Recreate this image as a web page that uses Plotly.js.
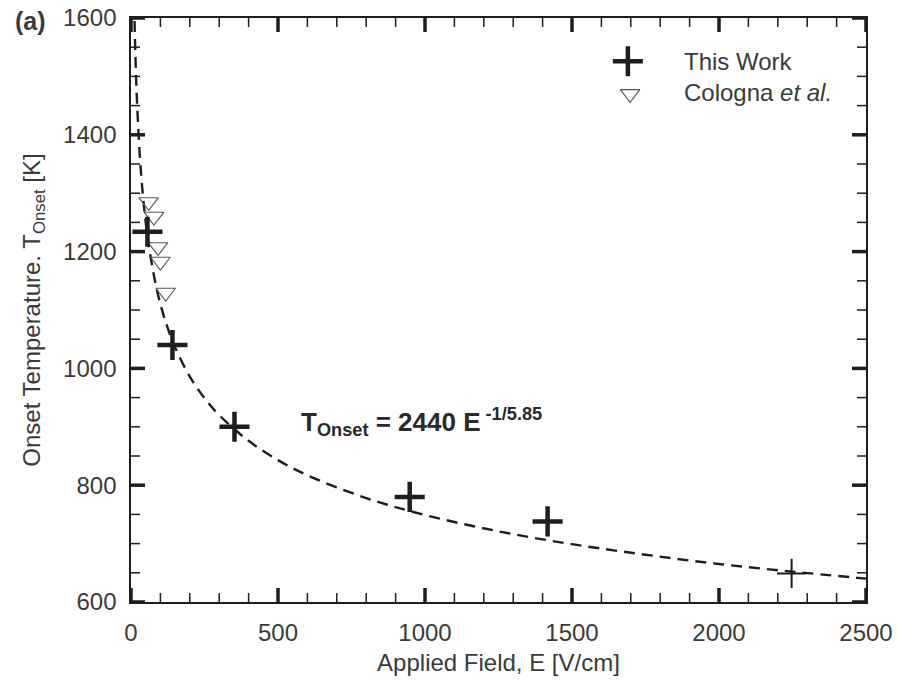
<!DOCTYPE html>
<html><head><meta charset="utf-8">
<script src="https://cdn.plot.ly/plotly-3.0.1.min.js"></script>
<style>html,body{margin:0;padding:0;background:#fff}#chart{width:897px;height:681px}</style>
</head><body><div id="chart"></div>
<script>
// This Work (thick crosses) and the last, thinner cross
const workE = [56, 141, 352, 948, 1417];
const workT = [1234, 1040, 900, 780, 738];
const workThinE = [2247];
const workThinT = [649];
// Cologna et al.
const colE = [60, 78, 92, 100, 118];
const colT = [1285, 1260, 1208, 1183, 1130];
// Fit curve T = 2440 E^(-1/5.85)
const fitE = [12, 15, 20, 30, 40, 50, 60, 80, 100, 125, 150, 200, 250, 300, 400, 500, 600, 800, 1000, 1250, 1500, 1750, 2000, 2250, 2500];
const fitT = [1595, 1536, 1462, 1364, 1299, 1250, 1212, 1154, 1110, 1069, 1036, 986, 949, 920, 876, 843, 817, 778, 749, 721, 699, 681, 665, 652, 640];
const legendNames = ['This Work', 'Cologna <i>et al.</i>'];
// Axis tick values
const xMajor = [0, 500, 1000, 1500, 2000, 2500];
const yMajor = [600, 800, 1000, 1200, 1400, 1600];

const FONT = '"Liberation Sans", Arial, Helvetica, sans-serif';
const ink = '#1e1e1e';
const txt = '#3a3a3a';
const X0 = 0, X1 = 2500, Y0 = 600, Y1 = 1600;
const PX_PER_X = 734.5 / (X1 - X0), PX_PER_Y = 584 / (Y1 - Y0);

// Inside tick marks on all four sides, drawn as line segments in axis units
function tickSegments(xs, ys, lenPx) {
  const tx = [], ty = [];
  const dy = lenPx / PX_PER_Y, dx = lenPx / PX_PER_X;
  xs.forEach(v => { tx.push(v, v, null, v, v, null); ty.push(Y0, Y0 + dy, null, Y1, Y1 - dy, null); });
  ys.forEach(v => { tx.push(X0, X0 + dx, null, X1, X1 - dx, null); ty.push(v, v, null, v, v, null); });
  return {tx, ty};
}
const xMinor = [], yMinor = [];
for (let i = 0; i < xMajor.length - 1; i++) for (let k = 1; k < 5; k++) xMinor.push(xMajor[i] + k * (xMajor[i + 1] - xMajor[i]) / 5);
for (let i = 0; i < yMajor.length - 1; i++) for (let k = 1; k < 4; k++) yMinor.push(yMajor[i] + k * (yMajor[i + 1] - yMajor[i]) / 4);
const majorT = tickSegments(xMajor, yMajor, 14);
const minorT = tickSegments(xMinor, yMinor, 9);

const crossMarker = {symbol: 'cross-thin-open', size: 21.5, opacity: 1, color: ink, line: {width: 4.5, color: ink}};
const triMarker = {symbol: 'triangle-down-open', size: 17, opacity: 1, color: '#555', line: {width: 1.1, color: '#555'}};

const traces = [
  {x: minorT.tx, y: minorT.ty, type: 'scatter', mode: 'lines', line: {color: ink, width: 1.5}, connectgaps: false, showlegend: false, hoverinfo: 'skip'},
  {x: majorT.tx, y: majorT.ty, type: 'scatter', mode: 'lines', line: {color: ink, width: 3.5}, connectgaps: false, showlegend: false, hoverinfo: 'skip'},
  {x: fitE, y: fitT, type: 'scatter', mode: 'lines', line: {color: ink, width: 2.4, dash: '11px,7px', shape: 'spline'}, showlegend: false},
  {x: colE, y: colT, type: 'scatter', mode: 'markers', name: legendNames[1], showlegend: false, marker: triMarker},
  {x: workE, y: workT, type: 'scatter', mode: 'markers', name: legendNames[0], showlegend: false, marker: crossMarker},
  {x: workThinE, y: workThinT, type: 'scatter', mode: 'markers', name: legendNames[0], showlegend: false,
   marker: {symbol: 'cross-thin-open', size: 21, opacity: 1, color: ink, line: {width: 2, color: ink}}},
  // legend keys, drawn on an overlay axis spanning the plot area (range 0..1)
  {x: [0.676], y: [0.926], xaxis: 'x2', yaxis: 'y2', type: 'scatter', mode: 'markers', showlegend: false, marker: crossMarker},
  {x: [0.679], y: [0.870], xaxis: 'x2', yaxis: 'y2', type: 'scatter', mode: 'markers', showlegend: false, marker: triMarker}
];

const axisCommon = {
  showgrid: false, zeroline: false, showline: true, linecolor: ink, linewidth: 1.7,
  mirror: true, ticks: '', tickfont: {family: FONT, size: 24, color: txt}
};

const layout = {
  width: 897, height: 681,
  margin: {l: 131, r: 31, t: 18, b: 79},
  paper_bgcolor: '#fff', plot_bgcolor: '#fff',
  font: {family: FONT, color: txt},
  showlegend: false,
  xaxis: Object.assign({}, axisCommon, {
    range: [X0, X1], tickmode: 'array', tickvals: xMajor, ticktext: xMajor.map(String), ticklabelstandoff: 8,
    title: {text: 'Applied Field, E [V/cm]', font: {family: FONT, size: 24, color: txt}, standoff: 10}
  }),
  yaxis: Object.assign({}, axisCommon, {
    range: [Y0, Y1], tickmode: 'array', tickvals: yMajor, ticktext: yMajor.map(String), ticklabelstandoff: 8,
    title: {text: 'Onset Temperature. T<sub>Onset</sub> [K]', font: {family: FONT, size: 24, color: txt}, standoff: 16}
  }),
  xaxis2: {overlaying: 'x', range: [0, 1], visible: false, fixedrange: true},
  yaxis2: {overlaying: 'y', range: [0, 1], visible: false, fixedrange: true},
  annotations: [
    {xref: 'paper', yref: 'paper', x: -0.161, y: 0.995, xanchor: 'left', yanchor: 'middle', showarrow: false,
     text: '<b>(a)</b>', font: {family: FONT, size: 25, color: txt}},
    {xref: 'x', yref: 'y', x: 573, y: 908, xanchor: 'left', yanchor: 'middle', showarrow: false,
     text: '<b>T<sub>Onset</sub> = 2440 E<sup> -1/5.85</sup></b>', font: {family: FONT, size: 26, color: '#2a2a2a'}},
    {xref: 'paper', yref: 'paper', x: 0.749, y: 0.925, xanchor: 'left', yanchor: 'middle', showarrow: false,
     text: legendNames[0], font: {family: FONT, size: 24, color: txt}},
    {xref: 'paper', yref: 'paper', x: 0.749, y: 0.873, xanchor: 'left', yanchor: 'middle', showarrow: false,
     text: legendNames[1], font: {family: FONT, size: 24, color: txt}}
  ]
};

Plotly.newPlot('chart', traces, layout, {displayModeBar: false, staticPlot: true});
</script></body></html>
